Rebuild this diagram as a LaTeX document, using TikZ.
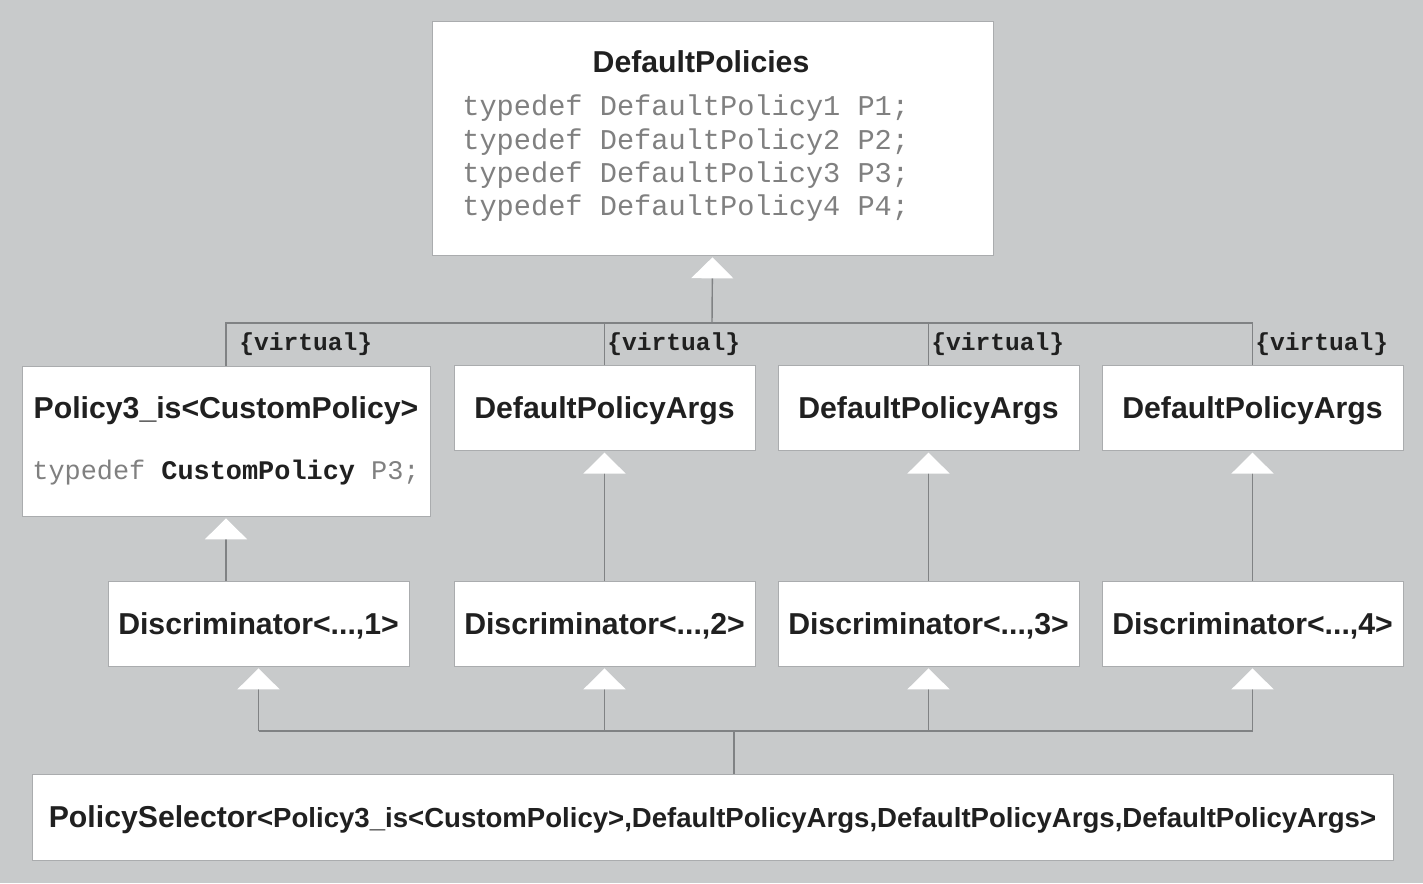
\documentclass[tikz,border=0pt]{standalone}
\usepackage{fontspec}
\setmainfont{Liberation Sans}
\setmonofont{Liberation Mono}
\usepackage{tikz}
\usetikzlibrary{arrows.meta}
\usetikzlibrary{positioning}
\definecolor{bggray}{RGB}{200,202,203}
\definecolor{linegray}{RGB}{128,130,132}
\definecolor{boxgray}{RGB}{170,172,174}
\definecolor{codegray}{RGB}{128,128,128}
\definecolor{inkblack}{RGB}{32,32,32}
\newcommand{\titlefont}{\fontsize{17.2}{20}\selectfont\bfseries}
\newcommand{\argsfont}{\fontsize{15.7}{18}\selectfont\bfseries}
\newcommand{\codefont}{\fontsize{16.3}{20}\selectfont\ttfamily}
\newcommand{\virtfont}{\fontsize{14}{16}\selectfont\ttfamily\bfseries}
\tikzstyle{block} = [draw=boxgray, fill=white, rectangle, inner sep=0pt,
    text depth=0pt, text=inkblack, font=\titlefont]
\tikzstyle{heading} = [inner sep=0pt, text depth=0pt, text=inkblack, font=\titlefont]
\tikzstyle{argsblock} = [block, minimum width=6.02cm, minimum height=1.69cm]
\tikzstyle{code} = [inner sep=0pt, anchor=west, text depth=0pt, text=codegray, font=\codefont]
\tikzstyle{virt} = [inner sep=0pt, anchor=west, text depth=0pt, text=inkblack, font=\virtfont]
\tikzstyle{line} = [draw=linegray, line width=0.8pt]
\tikzstyle{inherit} = [line, shorten >=0.04cm,
    -{Triangle[width=0.84cm, length=0.42cm, fill=white, color=white]}]

\begin{document}
\begin{tikzpicture}[x=0.02cm, y=-0.02cm]
    % background
    \fill [bggray] (0,0) rectangle (1423,883);

    % We start by placing the blocks
    \node [block, minimum width=11.22cm, minimum height=4.68cm] (policies) at (712.5,138) {};
    \node [heading] (policiestitle) at (701,62) {DefaultPolicies};
    \node [code] (p1) at (462,105) {typedef DefaultPolicy1 P1;};
    \node [code] (p2) at (462,139) {typedef DefaultPolicy2 P2;};
    \node [code] (p3) at (462,172) {typedef DefaultPolicy3 P3;};
    \node [code] (p4) at (462,205) {typedef DefaultPolicy4 P4;};

    \node [block, minimum width=8.16cm, minimum height=3cm] (custom) at (226,441) {};
    \node [heading] (customtitle) at (226,408) {Policy3\_is<CustomPolicy>};
    \node [code, anchor=center, font=\fontsize{15.3}{18}\selectfont\ttfamily] (customcode) at (226,470)
        {typedef \textcolor{inkblack}{\bfseries CustomPolicy} P3;};

    \node [argsblock] (args2) at (604.5,408) {DefaultPolicyArgs};
    \node [argsblock] (args3) at (928.5,408) {DefaultPolicyArgs};
    \node [argsblock] (args4) at (1252.5,408) {DefaultPolicyArgs};

    \node [argsblock, minimum height=1.7cm] (disc1) at (258.5,623.5) {Discriminator<...,1>};
    \node [argsblock, minimum height=1.7cm] (disc2) at (604.5,623.5) {Discriminator<...,2>};
    \node [argsblock, minimum height=1.7cm] (disc3) at (928.5,623.5) {Discriminator<...,3>};
    \node [argsblock, minimum height=1.7cm] (disc4) at (1252.5,623.5) {Discriminator<...,4>};

    \node [block, minimum width=27.22cm, minimum height=1.72cm] (selector) at (712.5,817)
        {PolicySelector{\argsfont<Policy3\_is<CustomPolicy>,DefaultPolicyArgs,DefaultPolicyArgs,DefaultPolicyArgs>}};

    % bus points
    \coordinate (topbus) at (712,323);
    \coordinate (lowbus) at (734,731);

    % virtual inheritance from DefaultPolicies
    \draw [inherit] (topbus) -- (policies.south);
    \draw [line] (custom.north) |- (topbus) -| (args4.north);
    \draw [line] (args2.north) -- (args2.north |- topbus);
    \draw [line] (args3.north) -- (args3.north |- topbus);
    \node [virt] (virt1) at (239,342) {\{virtual\}};
    \node [virt] (virt2) at (607,342) {\{virtual\}};
    \node [virt] (virt3) at (931,342) {\{virtual\}};
    \node [virt] (virt4) at (1255,342) {\{virtual\}};

    % Discriminators
    \draw [inherit] (disc1.north -| custom.south) -- (custom.south);
    \draw [inherit] (disc2.north) -- (args2.south);
    \draw [inherit] (disc3.north) -- (args3.south);
    \draw [inherit] (disc4.north) -- (args4.south);

    % PolicySelector
    \draw [line] (selector.north -| lowbus) -- (lowbus);
    \draw [line] (lowbus -| disc1) -- (lowbus -| disc4);
    \draw [inherit] (lowbus -| disc1) -- (disc1.south);
    \draw [inherit] (lowbus -| disc2) -- (disc2.south);
    \draw [inherit] (lowbus -| disc3) -- (disc3.south);
    \draw [inherit] (lowbus -| disc4) -- (disc4.south);
\end{tikzpicture}
\end{document}
